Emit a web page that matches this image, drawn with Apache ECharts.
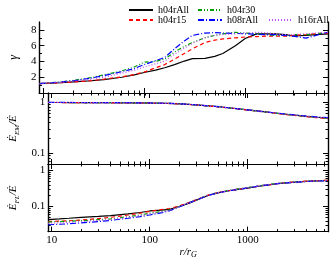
<!DOCTYPE html>
<html><head><meta charset="utf-8">
<script src="https://cdn.jsdelivr.net/npm/echarts@6/dist/echarts.min.js"></script>
<style>html,body{margin:0;padding:0;background:#fff}#c{width:331px;height:260px}</style>
</head><body><div id="c"></div>
<script>
// radii r/r_G
const R = [9.2, 12, 15, 20, 30, 40, 60, 80, 100, 130, 160, 200, 250, 300, 400, 500, 600, 800, 1000, 1300, 1600, 2000, 2500, 3000, 4000, 5000, 6600];
const names = ['h04rAll', 'h04r15', 'h04r30', 'h08rAll', 'h16rAll'];
// Lorentz factor gamma
const gamma_h04rAll = [1.2,1.25,1.3,1.4,1.55,1.7,2.0,2.3,2.6,2.9,3.2,3.6,4.05,4.35,4.4,4.65,5.0,6.0,6.9,7.5,7.5,7.5,7.4,7.25,7.3,7.4,7.5];
const gamma_h04r15  = [1.2,1.25,1.3,1.4,1.55,1.75,2.05,2.35,2.65,3.2,3.6,4.3,5.0,5.6,6.4,6.7,6.85,7.0,7.1,7.15,7.2,7.2,7.2,7.3,7.4,7.5,7.6];
const gamma_h04r30  = [1.2,1.3,1.4,1.6,1.95,2.3,2.8,3.3,3.9,4.0,4.3,5.2,5.9,6.4,7.0,7.3,7.5,7.7,7.6,7.5,7.4,7.3,7.3,7.4,7.4,7.5,7.7];
const gamma_h08rAll = [1.2,1.3,1.4,1.55,1.9,2.2,2.7,3.1,3.6,4.1,4.5,5.6,6.6,7.3,7.6,7.65,7.6,7.55,7.5,7.45,7.4,7.4,7.3,7.2,6.95,7.3,7.7];
const gamma_h16rAll = [1.2,1.28,1.35,1.5,1.75,2.0,2.5,2.9,3.3,3.7,4.05,4.9,5.7,6.3,7.0,7.3,7.4,7.5,7.6,7.7,7.65,7.5,7.4,7.4,7.5,7.6,7.7];
// EM energy fraction
const em_h04rAll = [0.99,0.99,0.988,0.985,0.982,0.98,0.975,0.97,0.965,0.958,0.95,0.935,0.91,0.89,0.85,0.82,0.79,0.745,0.71,0.67,0.64,0.61,0.58,0.56,0.53,0.51,0.49];
const em_h04r15  = [0.99,0.99,0.988,0.985,0.982,0.978,0.972,0.966,0.96,0.952,0.944,0.928,0.905,0.885,0.845,0.815,0.785,0.74,0.705,0.665,0.635,0.605,0.575,0.553,0.523,0.502,0.48];
const em_h04r30  = [0.99,0.99,0.99,0.988,0.985,0.983,0.978,0.973,0.968,0.96,0.951,0.935,0.91,0.888,0.848,0.818,0.788,0.743,0.708,0.668,0.638,0.608,0.58,0.56,0.53,0.51,0.49];
const em_h08rAll = [0.995,0.994,0.993,0.99,0.988,0.986,0.981,0.976,0.97,0.962,0.952,0.936,0.911,0.89,0.85,0.82,0.79,0.746,0.712,0.673,0.643,0.614,0.586,0.566,0.538,0.52,0.5];
const em_h16rAll = [0.992,0.992,0.99,0.988,0.985,0.982,0.977,0.972,0.966,0.959,0.95,0.934,0.91,0.889,0.849,0.819,0.789,0.744,0.709,0.669,0.639,0.609,0.58,0.56,0.531,0.511,0.49];
// FL energy fraction
const fl_h04rAll = [0.043,0.045,0.047,0.05,0.053,0.056,0.062,0.068,0.075,0.079,0.083,0.1,0.122,0.15,0.205,0.24,0.265,0.3,0.325,0.365,0.395,0.43,0.455,0.475,0.5,0.515,0.53];
const fl_h04r15  = [0.038,0.039,0.04,0.042,0.046,0.05,0.058,0.065,0.073,0.082,0.088,0.104,0.128,0.155,0.21,0.245,0.27,0.305,0.33,0.37,0.4,0.435,0.46,0.48,0.505,0.52,0.535];
const fl_h04r30  = [0.037,0.038,0.039,0.04,0.043,0.045,0.052,0.058,0.065,0.072,0.08,0.1,0.126,0.155,0.21,0.245,0.27,0.31,0.335,0.375,0.405,0.435,0.46,0.48,0.5,0.515,0.53];
const fl_h08rAll = [0.031,0.032,0.033,0.035,0.038,0.041,0.047,0.052,0.058,0.066,0.076,0.097,0.124,0.152,0.205,0.24,0.265,0.3,0.33,0.37,0.4,0.43,0.455,0.47,0.495,0.51,0.52];
const fl_h16rAll = [0.034,0.035,0.036,0.038,0.041,0.043,0.05,0.056,0.062,0.069,0.078,0.098,0.125,0.153,0.207,0.242,0.267,0.303,0.332,0.372,0.402,0.432,0.458,0.477,0.5,0.515,0.53];
// ticks
const xMajor = [10, 100, 1000];
const xMinor = [20,30,40,50,60,70,80,90,200,300,400,500,600,700,800,900,2000,3000,4000,5000,6000];
const xLabels = [10, 100, 1000];
const g1Major = [0,2,4,6,8], g1Minor = [1,3,5,7], g1Labels = [2,4,6,8];
const g2Major = [0.1,1], g2Minor = [0.07,0.08,0.09,0.2,0.3,0.4,0.5,0.6,0.7,0.8,0.9], g2Labels = [0.1,1];
const g3Major = [0.1,1], g3Minor = [0.02,0.03,0.04,0.05,0.06,0.07,0.08,0.09,0.2,0.3,0.4,0.5,0.6,0.7,0.8,0.9], g3Labels = [0.1,1];

const FONT = 'Liberation Serif';
const colors = ['#000000', '#ff0000', '#00a000', '#0000ff', '#c050f0'];
const dashes = ['solid', [4,3], [4,2,1,2,1,2], [6,2,1,2], [1,2]];
const gData = [
  [gamma_h04rAll, gamma_h04r15, gamma_h04r30, gamma_h08rAll, gamma_h16rAll],
  [em_h04rAll, em_h04r15, em_h04r30, em_h08rAll, em_h16rAll],
  [fl_h04rAll, fl_h04r15, fl_h04r30, fl_h08rAll, fl_h16rAll]
];
const grids = [
  {left: 36, right: 3, top: 22, height: 71},
  {left: 36, right: 3, top: 93, height: 71},
  {left: 36, right: 3, top: 164, height: 69}
];
const yCfg = [
  {type: 'value', min: 0, max: 9, major: g1Major, minor: g1Minor, labels: g1Labels,
   name: '{g|γ}', gap: 9},
  {type: 'log', min: 0.062, max: 1.52, major: g2Major, minor: g2Minor, labels: g2Labels,
   name: '{e|Ė}{s|EM}{e|/Ė}', gap: 15},
  {type: 'log', min: 0.02, max: 1.52, major: g3Major, minor: g3Minor, labels: g3Labels,
   name: '{e|Ė}{s|FL}{e|/Ė}', gap: 18}
];
const fmt = v => String(v);
const lineS = {show: true, lineStyle: {color: '#000', width: 1.2}};
const xAxes = [], yAxes = [];
for (let g = 0; g < 3; g++) {
  const mk = (pos, ticks, len, label) => {
    const a = {type: 'log', logBase: 10, min: 9.2, max: 6600, gridIndex: g, position: pos,
      axisLine: lineS, splitLine: {show: false},
      axisTick: {show: true, inside: true, length: len, customValues: ticks, lineStyle: {color: '#000', width: 1}},
      axisLabel: {show: false}};
    if (label) {
      a.axisLabel = {show: true, customValues: xLabels, formatter: fmt, margin: 3, color: '#000', fontFamily: FONT, fontSize: 11};
      a.name = '{i|r/r}{s|G}';
      a.nameLocation = 'middle';
      a.nameGap = 13;
      a.nameTextStyle = {rich: {
        i: {fontFamily: FONT, fontStyle: 'italic', fontSize: 11, color: '#000', lineHeight: 14},
        s: {fontFamily: FONT, fontStyle: 'italic', fontSize: 8, color: '#000', verticalAlign: 'bottom', lineHeight: 14}
      }};
    }
    return a;
  };
  xAxes.push(mk('bottom', xMajor, 5, g === 2));
  xAxes.push(mk('bottom', xMinor, 2.5, false));
  xAxes.push(mk('top', xMajor, 5, false));
  xAxes.push(mk('top', xMinor, 2.5, false));
  const c = yCfg[g];
  const mky = (pos, ticks, len, label) => {
    const a = {type: c.type, min: c.min, max: c.max, gridIndex: g, position: pos,
      axisLine: lineS, splitLine: {show: false},
      axisTick: {show: true, inside: true, length: len, customValues: ticks, lineStyle: {color: '#000', width: 1}},
      axisLabel: {show: false}};
    if (c.type === 'log') a.logBase = 10;
    if (label) {
      a.axisLabel = {show: true, customValues: c.labels, formatter: fmt, margin: 3, color: '#000', fontFamily: FONT, fontSize: 11};
      a.name = c.name;
      a.nameLocation = 'middle';
      a.nameRotate = 90;
      a.nameGap = c.gap;
      a.nameTextStyle = {rich: {
        g: {fontFamily: FONT, fontStyle: 'italic', fontSize: 12, color: '#000'},
        e: {fontFamily: FONT, fontStyle: 'italic', fontSize: 11, color: '#000', lineHeight: 14},
        s: {fontFamily: FONT, fontStyle: 'italic', fontSize: 7, color: '#000', verticalAlign: 'bottom', lineHeight: 14}
      }};
    }
    return a;
  };
  yAxes.push(mky('left', c.major, 5, true));
  yAxes.push(mky('left', c.minor, 2.5, false));
  yAxes.push(mky('right', c.major, 5, false));
  yAxes.push(mky('right', c.minor, 2.5, false));
}
const series = [];
for (let g = 0; g < 3; g++) {
  for (let s = 0; s < 5; s++) {
    series.push({
      type: 'line', name: names[s], xAxisIndex: g * 4, yAxisIndex: g * 4,
      data: R.map((r, i) => [r, gData[g][s][i]]),
      symbol: 'none', showSymbol: false, smooth: false, clip: true,
      lineStyle: {color: colors[s], width: 1.2, type: dashes[s]},
      itemStyle: {color: colors[s]}
    });
  }
}
const legBase = {orient: 'vertical', itemWidth: 24, itemHeight: 10, itemGap: 0, selectedMode: false,
  itemStyle: {color: 'rgba(0,0,0,0)', borderWidth: 0, opacity: 0},
  textStyle: {fontFamily: FONT, fontSize: 10, color: '#000'}};
const option = {
  animation: false,
  backgroundColor: '#fff',
  grid: grids,
  xAxis: xAxes,
  yAxis: yAxes,
  legend: [
    Object.assign({left: 123, top: 0, data: ['h04rAll', 'h04r15']}, legBase),
    Object.assign({left: 192, top: 0, data: ['h04r30', 'h08rAll']}, legBase),
    Object.assign({left: 263, top: 10, data: ['h16rAll']}, legBase)
  ],
  series: series
};
const chart = echarts.init(document.getElementById('c'), null, {renderer: 'canvas'});
chart.setOption(option);
</script></body></html>
